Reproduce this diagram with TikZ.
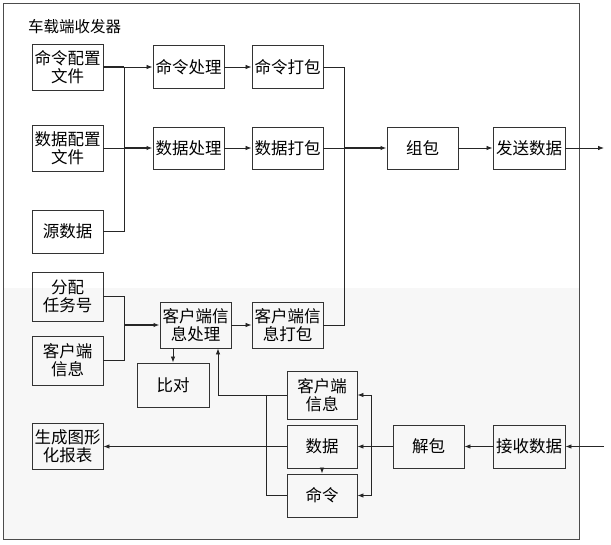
\documentclass[tikz,border=0pt]{standalone}
\usepackage{fontspec}
\setmainfont{Noto Sans CJK SC}
\usetikzlibrary{arrows.meta,calc}
\begin{document}
\begin{tikzpicture}[x=1pt,y=-1pt,
  box/.style={draw=black!80, line width=0.9pt, inner sep=0.5pt, align=center,
    font=\fontsize{16.5}{18}\selectfont, minimum width=71pt, minimum height=44pt},
  conn/.style={draw=black!85, line width=0.8pt},
  arr/.style={conn, -{Latex[length=6pt,width=4.5pt]}},
  thick line/.style={line width=1.5pt}]
\useasboundingbox (0,0) rectangle (611,545);
% background areas
\fill[black!3] (3,288) rectangle (579,539);
\draw[black!70, line width=1pt] (3,4) rectangle (579,539);
\node[anchor=west, font=\fontsize{15.5}{17}\selectfont, inner sep=0pt] (title) at (28,27) {车载端收发器};
% upper nodes
\node[box, minimum height=46pt] (cfgcmd) at (67.5,67) {命令配置\\文件};
\node[box, minimum height=46pt] (cfgdata) at (67.5,148) {数据配置\\文件};
\node[box, minimum height=43pt] (src) at (67.5,231.5) {源数据};
\node[box, minimum height=43pt] (proccmd) at (188.5,67) {命令处理};
\node[box, minimum height=43pt] (packcmd) at (287.5,67) {命令打包};
\node[box, minimum height=42pt] (procdata) at (188.5,148) {数据处理};
\node[box, minimum height=42pt] (packdata) at (287.5,148) {数据打包};
\node[box, minimum height=42pt] (zubao) at (422.5,148) {组包};
\node[box, minimum height=42pt, minimum width=72pt] (send) at (529,148) {发送数据};
% lower nodes
\node[box, minimum height=49pt] (task) at (67.5,296.5) {分配\\任务号};
\node[box, minimum height=49pt] (cli) at (67.5,360.5) {客户端\\信息};
\node[box, minimum height=46pt] (cliproc) at (195.5,325) {客户端信\\息处理};
\node[box, minimum height=46pt] (clipack) at (287.5,325) {客户端信\\息打包};
\node[box, minimum height=44pt, minimum width=72pt] (cmp) at (173,385) {比对};
\node[box, minimum height=46pt] (report) at (67.5,446.5) {生成图形\\化报表};
\node[box, minimum height=48pt, minimum width=70pt] (rcli) at (322,395) {客户端\\信息};
\node[box, minimum height=43pt, minimum width=70pt] (rdata) at (322,446.5) {数据};
\node[box, minimum height=43pt, minimum width=70pt] (rcmd) at (322,495.5) {命令};
\node[box, minimum height=43pt] (unpack) at (428.5,446.5) {解包};
\node[box, minimum height=43pt, minimum width=72pt] (recv) at (529,446.5) {接收数据};
% bus coordinates
\coordinate (b1) at (124,0);
\coordinate (b2) at (344,0);
\coordinate (b3) at (266,0);
\coordinate (b4) at (371,0);
\coordinate (c1) at (218,395);
\coordinate (out) at (604,148);
\coordinate (in) at (604,446.5);
% upper connectors
\draw[conn, thick line] (cfgcmd.east) -- (b1 |- cfgcmd.east);
\draw[arr] (b1 |- cfgcmd.east) -- (proccmd.west);
\draw[conn] (b1 |- cfgcmd.east) -- (b1 |- src.east) -- (src.east);
\draw[conn] (cfgdata.east) -- (b1 |- cfgdata.east);
\draw[arr, thick line] (b1 |- cfgdata.east) -- (procdata.west);
\draw[arr] (proccmd) -- (packcmd);
\draw[arr] (procdata) -- (packdata);
\draw[conn] (packcmd.east) -- (b2 |- packcmd.east) -- (b2 |- clipack.east) -- (clipack.east);
\draw[conn] (packdata.east) -- (b2 |- packdata.east);
\draw[arr, thick line] (b2 |- packdata.east) -- (zubao.west);
\draw[arr] (zubao) -- (send);
\draw[arr] (send.east) -- (out);
% lower connectors
\draw[conn] (task.east) -- (b1 |- task.east) -- (b1 |- cli.east) -- (cli.east);
\draw[arr, thick line] (b1 |- cliproc.west) -- (cliproc.west);
\draw[arr] (cliproc) -- (clipack);
\draw[arr] (cmp.north |- cliproc.south) -- (cmp.north);
\draw[arr] (rcli.west) -- (c1) -- (c1 |- cliproc.south);
\draw[conn] (b3 |- rcli.west) -- (b3 |- rcmd.west) -- (rcmd.west);
\draw[arr] (rdata.west) -- (report.east);
\draw[arr] (rdata.south) -- (rcmd.north);
\draw[conn] (unpack.west) -- (b4 |- unpack.west);
\draw[arr] (b4 |- rcli.east) -- (rcli.east);
\draw[arr] (b4 |- rdata.east) -- (rdata.east);
\draw[arr] (b4 |- rcmd.east) -- (rcmd.east);
\draw[conn] (b4 |- rcli.east) -- (b4 |- rcmd.east);
\draw[arr] (recv) -- (unpack);
\draw[arr] (in) -- (recv.east);
\end{tikzpicture}
\end{document}
